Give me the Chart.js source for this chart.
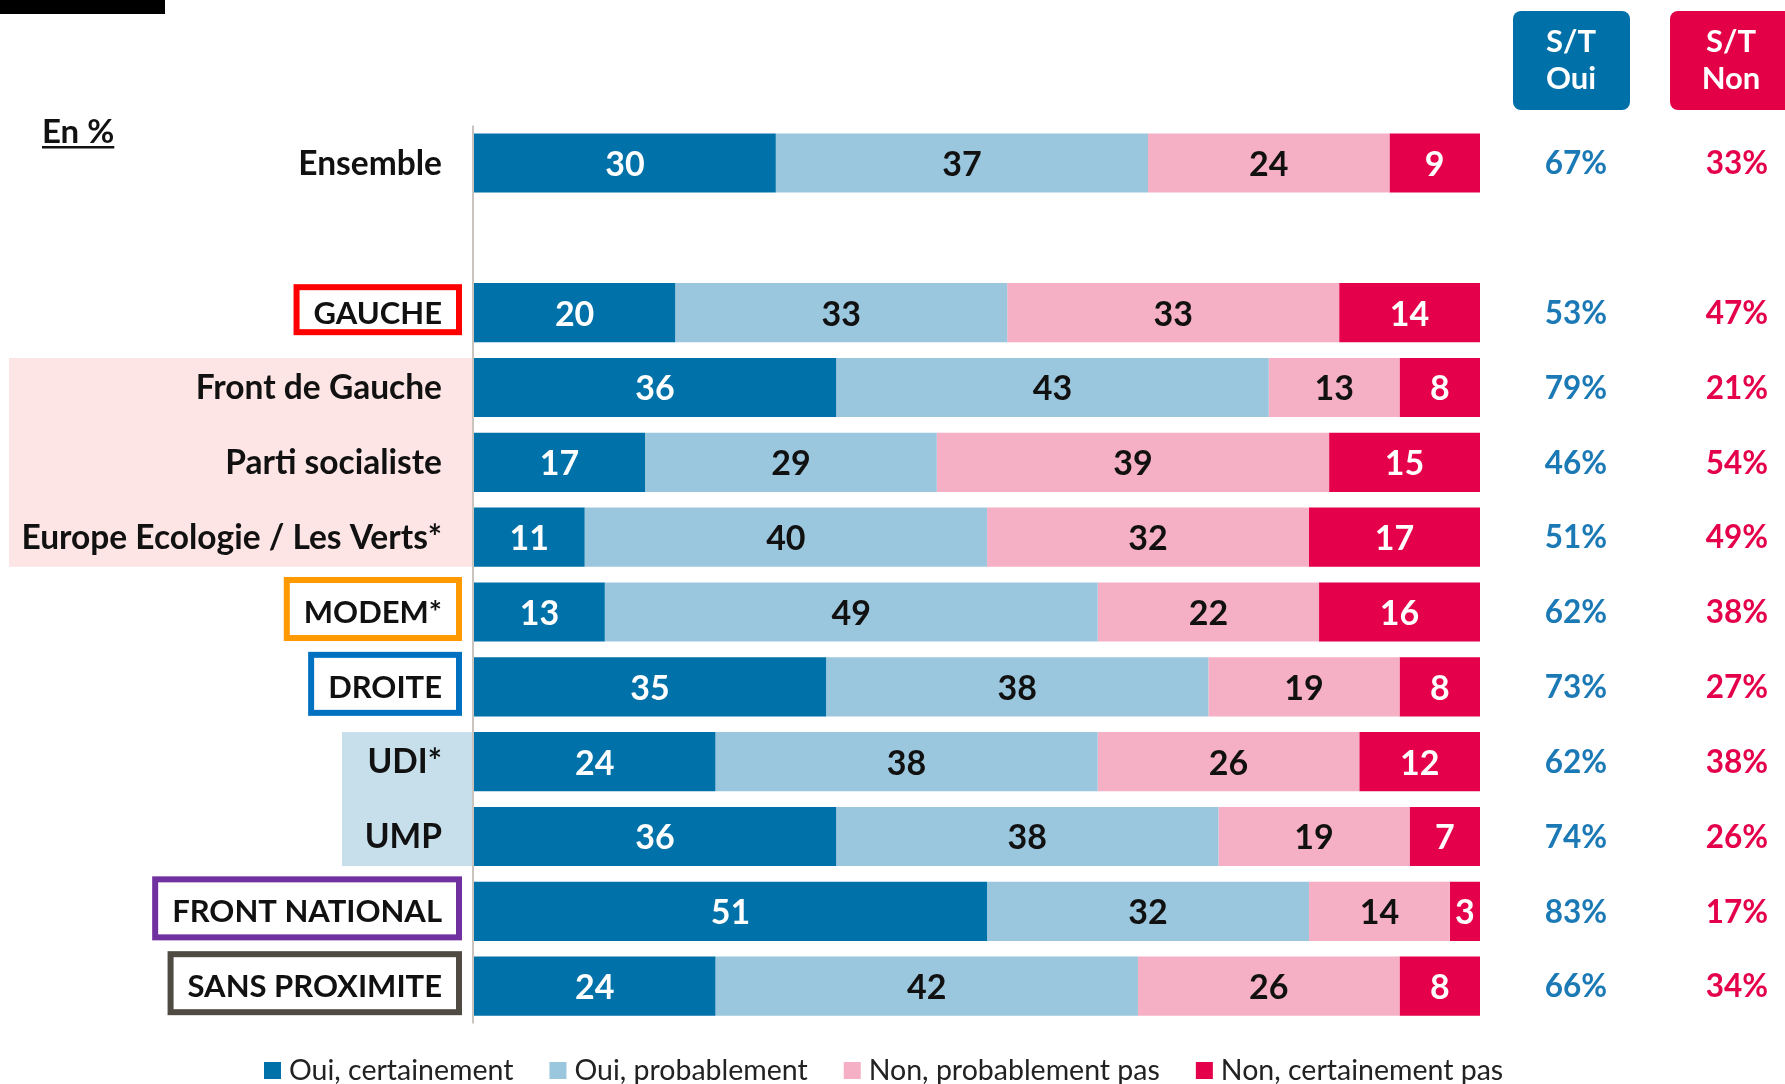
<!DOCTYPE html>
<html lang="fr">
<head>
<meta charset="utf-8">
<title>S/T Oui - S/T Non</title>
<script src="https://cdn.jsdelivr.net/npm/chart.js@4.4.1/dist/chart.umd.min.js"></script>
<style>
  html, body { margin: 0; padding: 0; background: #fff; }
  #wrap { position: relative; width: 1785px; height: 1084px; }
</style>
</head>
<body>
<div id="wrap"><canvas id="chart"></canvas></div>
<script>
// Data (en %)
const categories = ['Ensemble', '', 'GAUCHE', 'Front de Gauche', 'Parti socialiste',
  'Europe Ecologie / Les Verts*', 'MODEM*', 'DROITE', 'UDI*', 'UMP', 'FRONT NATIONAL', 'SANS PROXIMITE'];
const ouiCertainement = [30, null, 20, 36, 17, 11, 13, 35, 24, 36, 51, 24];
const ouiProbablement = [37, null, 33, 43, 29, 40, 49, 38, 38, 38, 32, 42];
const nonProbablement = [24, null, 33, 13, 39, 32, 22, 19, 26, 19, 14, 26];
const nonCertainement = [9, null, 14, 8, 15, 17, 16, 8, 12, 7, 3, 8];
const stOui = ['67%', '', '53%', '79%', '46%', '51%', '62%', '73%', '62%', '74%', '83%', '66%'];
const stNon = ['33%', '', '47%', '21%', '54%', '49%', '38%', '27%', '38%', '26%', '17%', '34%'];
const seriesNames = ['Oui, certainement', 'Oui, probablement', 'Non, probablement pas', 'Non, certainement pas'];

// Styles
const COLORS = ['#0071A9', '#9BC7DE', '#F6B0C6', '#E4004A'];
const VALUE_COLORS = ['#ffffff', '#111111', '#111111', '#ffffff'];
const FONT = 'Lato, "Open Sans", sans-serif';
const LABEL_RIGHT = 442;

// group labels drawn in a coloured frame
const boxedLabels = {
  'GAUCHE': { color: '#FF0000', height: 51 },
  'MODEM*': { color: '#FF9900', height: 64 },
  'DROITE': { color: '#0070C0', height: 64 },
  'FRONT NATIONAL': { color: '#7030A0', height: 64 },
  'SANS PROXIMITE': { color: '#4F4B43', height: 64 }
};

// shaded bands behind the sub-group labels
const bands = [
  { from: 3, to: 5, left: 9, color: '#FDE5E5' },
  { from: 8, to: 9, left: 342, color: '#C6DFEB' }
];

const decorPlugin = {
  id: 'decor',
  beforeDatasetsDraw(chart) {
    const ctx = chart.ctx;
    const y = chart.scales.y;
    const area = chart.chartArea;
    const half = y.getPixelForValue(1) - y.getPixelForValue(0);
    const barHalf = half * 0.79 / 2;

    ctx.save();
    // bands
    bands.forEach(b => {
      const top = y.getPixelForValue(b.from) - barHalf;
      const bottom = y.getPixelForValue(b.to) + barHalf;
      ctx.fillStyle = b.color;
      ctx.fillRect(b.left, top, area.left - 2 - b.left, bottom - top);
    });

    // vertical axis line
    ctx.strokeStyle = '#C9C4BE';
    ctx.lineWidth = 2;
    ctx.beginPath();
    ctx.moveTo(area.left - 1, area.top);
    ctx.lineTo(area.left - 1, area.bottom);
    ctx.stroke();

    // category labels
    ctx.textAlign = 'right';
    ctx.textBaseline = 'middle';
    categories.forEach((label, i) => {
      if (!label) return;
      const cy = y.getPixelForValue(i);
      const box = boxedLabels[label];
      ctx.font = (box ? 'bold 31px ' : 'bold 33.5px ') + FONT;
      ctx.fillStyle = '#111';
      ctx.fillText(label, LABEL_RIGHT, cy + 1);
      if (box) {
        const w = ctx.measureText(label).width;
        const left = LABEL_RIGHT - w - 20;
        const right = 462;
        const top = cy - 3 - box.height / 2;
        ctx.strokeStyle = box.color;
        ctx.lineWidth = 6;
        ctx.strokeRect(left + 3, top + 3, right - left - 6, box.height - 6);
      }
    });

    // top-left black strip and "En %"
    ctx.fillStyle = '#000';
    ctx.fillRect(0, 0, 165, 14);
    ctx.font = 'bold 33px ' + FONT;
    ctx.textAlign = 'left';
    ctx.textBaseline = 'alphabetic';
    ctx.fillStyle = '#111';
    ctx.fillText('En %', 42, 143);
    const enW = ctx.measureText('En %').width;
    ctx.fillRect(42, 146, enW, 2.5);

    // S/T headers
    const headers = [
      { left: 1513, width: 117, cx: 1571, color: '#0070A8', lines: ['S/T', 'Oui'] },
      { left: 1670, width: 130, cx: 1731, color: '#E40046', lines: ['S/T', 'Non'] }
    ];
    headers.forEach(h => {
      ctx.fillStyle = h.color;
      ctx.beginPath();
      ctx.roundRect(h.left, 11, h.width, 99, 8);
      ctx.fill();
      ctx.fillStyle = '#fff';
      ctx.font = 'bold 31px ' + FONT;
      ctx.textAlign = 'center';
      ctx.textBaseline = 'middle';
      ctx.fillText(h.lines[0], h.cx, 42);
      ctx.fillText(h.lines[1], h.cx, 79);
    });

    // legend
    ctx.font = '28.5px ' + FONT;
    ctx.textAlign = 'left';
    ctx.textBaseline = 'middle';
    let lx = 264;
    seriesNames.forEach((name, i) => {
      ctx.fillStyle = COLORS[i];
      ctx.fillRect(lx, 1062, 17, 17);
      lx += 25;
      ctx.fillStyle = '#222';
      ctx.fillText(name, lx, 1071);
      lx += ctx.measureText(name).width + 36;
    });
    ctx.restore();
  },
  afterDatasetsDraw(chart) {
    const ctx = chart.ctx;
    const y = chart.scales.y;
    ctx.save();
    ctx.textAlign = 'center';
    ctx.textBaseline = 'middle';
    ctx.font = 'bold 34px ' + FONT;
    chart.data.datasets.forEach((ds, di) => {
      chart.getDatasetMeta(di).data.forEach((bar, i) => {
        const v = ds.data[i];
        if (v == null) return;
        ctx.fillStyle = VALUE_COLORS[di];
        ctx.fillText(String(v), (bar.x + bar.base) / 2, bar.y + 2);
      });
    });

    // S/T columns
    ctx.font = 'bold 31.5px ' + FONT;
    categories.forEach((c, i) => {
      if (!stOui[i]) return;
      const cy = y.getPixelForValue(i) + 1;
      ctx.fillStyle = '#1B79B5';
      ctx.fillText(stOui[i], 1576, cy);
      ctx.fillStyle = '#E4004A';
      ctx.fillText(stNon[i], 1737, cy);
    });
    ctx.restore();
  }
};

const seriesData = [ouiCertainement, ouiProbablement, nonProbablement, nonCertainement];

new Chart(document.getElementById('chart'), {
  type: 'bar',
  data: {
    labels: categories,
    datasets: seriesNames.map((name, i) => ({
      label: name,
      data: seriesData[i],
      backgroundColor: COLORS[i],
      borderWidth: 0,
      barPercentage: 0.79,
      categoryPercentage: 1.0
    }))
  },
  options: {
    indexAxis: 'y',
    responsive: true,
    maintainAspectRatio: false,
    animation: false,
    layout: {
      padding: { left: 474, right: 305, top: 125.6, bottom: 60.4 }
    },
    plugins: {
      legend: { display: false },
      tooltip: { enabled: false }
    },
    scales: {
      x: { stacked: true, min: 0, max: 100, display: false },
      y: { stacked: true, display: false }
    }
  },
  plugins: [decorPlugin]
});
</script>
</body>
</html>
